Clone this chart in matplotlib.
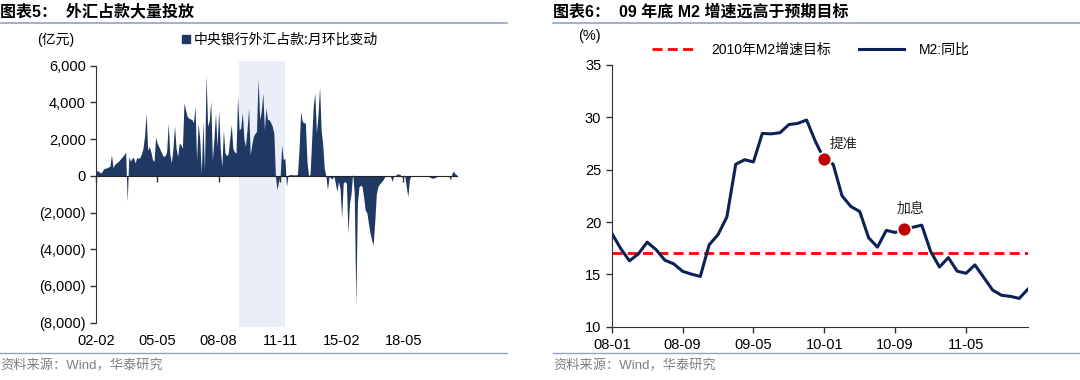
import matplotlib
matplotlib.use("Agg")
import matplotlib.pyplot as plt
from matplotlib.lines import Line2D
from matplotlib.patches import Patch
from matplotlib.ticker import FuncFormatter

plt.rcParams['font.family'] = ['Liberation Sans', 'Noto Sans CJK SC']

# ---- left panel: PBoC FX position, monthly change (100m yuan), from 2002-02 ----
fx_start = (2002, 2)
fx_change = [
    # 2002 Feb-Dec
    270, 280, 240, 150, 230, 380, 420, 430, 480, 520, 1150,
    # 2003
    450, 620, 700, 760, 850, 950, 1050, 1150, 1300, -1400, 1050, 800,
    # 2004
    950, 1000, 700, 1000, 950, 1000, 1200, 1500, 2200, 3400, 1400, 1600,
    # 2005
    1300, 900, 780, 2100, 1780, 1600, 1400, 1200, 1050, 1100, 1300, 2870,
    # 2006
    1200, 700, 1500, 2730, 1500, 1050, 1780, 1700, 1500, 3970, 3600, 3240,
    # 2007
    3150, 3100, 3060, 2900, 3790, 870, 2870, 2000, 150, 3000, 300, 5500,
    # 2008
    2700, 3000, 4060, 870, 2000, 3420, 1600, 3600, 1500, 500, 2500, 1240,
    # 2009
    1100, 1200, 2000, 2790, 1500, 1300, 1250, 4330, 2500, 2600, 3460, 2000,
    # 2010
    1600, 2500, 3700, 1150, 1700, 2150, 2300, 2420, 5330, 3060, 3500, 4510,
    # 2011
    2500, 3700, 3060, 3060, 2900, 2700, 2330, 0, -760, -300, 0, 1690,
    # 2012
    870, 960, -580, 40, 60, 80, 50, 60, 40, 100, 1500, 3500,
    # 2013
    2970, 2900, 2870, 800, 0, 100, 2000, 3800, 4510, 2330, 3300, 4870,
    # 2014
    2500, 1690, 400, 0, -760, -50, -100, -180, 0, -400, -850, -300,
    # 2015
    -700, -2300, -400, -300, -400, -3130, -1500, -950, 150, -950, -7040, -1500,
    # 2016
    -600, -500, -600, -1200, -1900, -2000, -2600, -3100, -3500, -3770, -2500, -1000,
    # 2017
    -580, -450, -350, -250, -100, 0, -20, -10, -50, -300, 0, 20,
    # 2018
    90, 100, 90, -100, 50, 0, -600, -1130, -200, 0, -20, 10,
    # 2019
    -30, 0, -10, 20, -20, 0, -10, -30, 10, -80, -120, -130,
    # 2020
    -100, -60, -20, 0, -10, 10, -20, 0, -30, -10, -250, 150,
    # 2021 Jan-Apr
    250, 100, 60,
]
fx_ticks = ['02-02', '05-05', '08-08', '11-11', '15-02', '18-05']
fx_shade = ['09-09', '12-02']
fx_yticks = [6000, 4000, 2000, 0, -2000, -4000, -6000, -8000]

# ---- right panel: M2 yoy (%), 2008-01 .. 2011-12 ----
m2_start = (2008, 1)
m2_yoy = [
    18.94, 17.48, 16.29, 16.94, 18.07, 17.37, 16.35, 16.00, 15.29, 15.02, 14.80, 17.82,
    18.79, 20.48, 25.51, 25.95, 25.74, 28.46, 28.42, 28.53, 29.31, 29.42, 29.74, 27.68,
    25.98, 25.52, 22.50, 21.48, 21.00, 18.50, 17.60, 19.20, 19.00, 19.30, 19.50, 19.70,
    17.20, 15.70, 16.60, 15.30, 15.10, 15.90, 14.70, 13.50, 13.00, 12.90, 12.70, 13.60,
]
m2_target = 17
m2_ticks = ['08-01', '08-09', '09-05', '10-01', '10-09', '11-05']
m2_events = ['10-01', '10-10']
m2_event_labels = ['提准', '加息']

NAVY = '#203864'
LINE_NAVY = '#0C2256'
RED = '#C00000'
RULE = '#8FA3C5'
GREY = '#7F7F7F'


def month_pos(label, start):
    yy, mm = label.split('-')
    return (2000 + int(yy) - start[0]) * 12 + int(mm) - start[1]


def paren_fmt(v, _):
    if v < 0:
        return f'({abs(v):,.0f})'
    return f'{v:,.0f}'


fig = plt.figure(figsize=(10.8, 3.8), dpi=100)

# ================= left chart =================
ax1 = fig.add_axes([0.0886, 0.1508, 0.3343, 0.6763])
x1 = list(range(len(fx_change)))
ax1.fill_between(x1, fx_change, 0, color=NAVY, lw=0, zorder=2)
ax1.axvspan(month_pos(fx_shade[0], fx_start), month_pos(fx_shade[1], fx_start),
            ymin=-0.016, ymax=1.018, color='#E9EEF8', lw=0, zorder=0, clip_on=False)
ax1.set_xlim(0, len(fx_change) - 1)
ax1.set_ylim(-8000, 6000)
ax1.set_yticks(fx_yticks)
ax1.yaxis.set_major_formatter(FuncFormatter(paren_fmt))
ax1.tick_params(axis='y', direction='out', length=4, width=1, labelsize=10.5,
                color='#333333', pad=3)
for s in ['top', 'right']:
    ax1.spines[s].set_visible(False)
ax1.spines['left'].set_color('#333333')
ax1.spines['bottom'].set_position(('data', 0))
ax1.spines['bottom'].set_color('#222222')
ax1.spines['bottom'].set_zorder(3)
tick_pos1 = [month_pos(t, fx_start) for t in fx_ticks]
ax1.set_xticks(tick_pos1)
ax1.tick_params(axis='x', direction='out', length=4, width=1, labelbottom=False,
                color='#333333')
sec = ax1.secondary_xaxis('bottom')
sec.set_xticks(tick_pos1, fx_ticks)
sec.tick_params(length=0, labelsize=10.5, pad=8)
sec.spines['bottom'].set_visible(False)

fig.legend(handles=[Patch(color=NAVY, label='中央银行外汇占款:月环比变动')],
           loc='center left', bbox_to_anchor=(0.157, 0.895), frameon=False,
           handlelength=0.6, handleheight=0.6, handletextpad=0.25,
           prop={'family': ['Noto Sans CJK SC'], 'size': 10})
fig.text(37 / 1080, 1 - 40 / 380, '(亿元)', fontsize=10, va='center', ha='left')

# ================= right chart =================
ax2 = fig.add_axes([0.5664, 0.1403, 0.3855, 0.6887])
x2 = list(range(len(m2_yoy)))
tgt_line = ax2.axhline(m2_target, color='#FF0000', lw=2, ls=(0, (3.6, 1.9)),
                       label='2010年M2增速目标', zorder=2)
m2_line, = ax2.plot(x2, m2_yoy, color=LINE_NAVY, lw=2.2, label='M2:同比', zorder=3)
for ev, txt, off in zip(m2_events, m2_event_labels, [(4, 11), (-5, 15)]):
    p = month_pos(ev, m2_start)
    ax2.plot(p, m2_yoy[p], 'o', color=RED, ms=10, mec='white', mew=1.2, zorder=4)
    ax2.annotate(txt, (p, m2_yoy[p]), xytext=off, textcoords='offset points',
                 fontsize=10, ha='left', va='center', color='#222222',
                 family=['Noto Sans CJK SC'])
ax2.set_xlim(0, len(m2_yoy) - 1)
ax2.set_ylim(10, 35)
ax2.set_yticks(range(10, 36, 5))
tick_pos2 = [month_pos(t, m2_start) for t in m2_ticks]
ax2.set_xticks(tick_pos2, m2_ticks)
for s in ['top', 'right']:
    ax2.spines[s].set_visible(False)
for s in ['left', 'bottom']:
    ax2.spines[s].set_color('#333333')
ax2.tick_params(direction='out', length=4, width=1, labelsize=10.5, color='#333333')
ax2.tick_params(axis='x', pad=4)

fig.legend(handles=[tgt_line, m2_line], loc='center left',
           bbox_to_anchor=(0.592, 0.868), ncol=2, frameon=False, fontsize=10,
           handlelength=3.2, handletextpad=1.1, columnspacing=2.0)
fig.text(578 / 1080, 1 - 36 / 380, '(%)', fontsize=10.5, va='center', ha='left')

# ================= titles, rules, sources =================
fig.text(0.0, 1 - 12 / 380, '图表5：  外汇占款大量投放', fontsize=11.5,
         fontweight='bold', va='center', ha='left')
fig.text(553 / 1080, 1 - 12 / 380, '图表6：  09 年底 M2 增速远高于预期目标', fontsize=11.5,
         fontweight='bold', va='center', ha='left')
for x0, x1_ in [(0.0, 507 / 1080), (553 / 1080, 1.0)]:
    fig.add_artist(Line2D([x0, x1_], [1 - 23 / 380] * 2, color=RULE, lw=1.2,
                          transform=fig.transFigure))
    fig.add_artist(Line2D([x0, x1_], [1 - 353 / 380] * 2, color=RULE, lw=1.0,
                          transform=fig.transFigure))
fig.text(0.0, 1 - 366 / 380, '资料来源：Wind，华泰研究', fontsize=9.5, color=GREY,
         va='center', ha='left')
fig.text(553 / 1080, 1 - 366 / 380, '资料来源：Wind，华泰研究', fontsize=9.5, color=GREY,
         va='center', ha='left')

fig.savefig('out.png', dpi=100)
